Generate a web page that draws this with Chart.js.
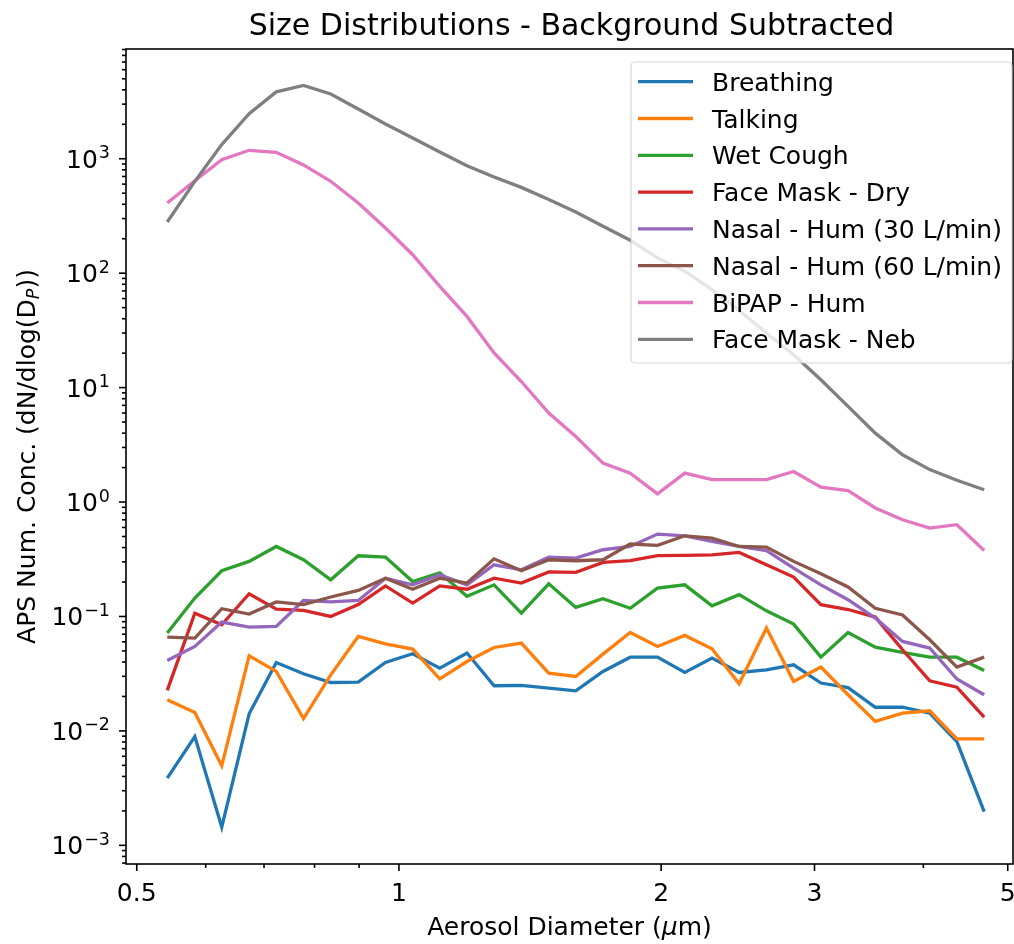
<!DOCTYPE html>
<html>
<head>
<meta charset="utf-8">
<script src="https://cdn.jsdelivr.net/npm/chart.js@4.4.0/dist/chart.umd.min.js"></script>
<style>
  html, body { margin: 0; padding: 0; background: #ffffff; }
  #wrap { width: 1014px; height: 944px; }
</style>
</head>
<body>
<div id="wrap"><canvas id="sizeChart" width="1014" height="944"></canvas></div>
<script>
// APS channel midpoints (um)
const diameters = [0.542, 0.583, 0.626, 0.673, 0.723, 0.777, 0.835, 0.898, 0.965, 1.037, 1.114,
  1.197, 1.286, 1.382, 1.486, 1.596, 1.715, 1.843, 1.981, 2.129, 2.288, 2.458, 2.642, 2.839,
  3.051, 3.278, 3.523, 3.786, 4.068, 4.371, 4.698];

const breathing = [0.00387, 0.00893, 0.00144, 0.0141, 0.0396, 0.0316, 0.0265, 0.0267, 0.0396, 0.0472, 0.0354,
  0.0479, 0.0248, 0.0250, 0.0237, 0.0224, 0.0331, 0.0441, 0.0441, 0.0324, 0.0433, 0.0324, 0.0342, 0.0378,
  0.0262, 0.0239, 0.0161, 0.0161, 0.0143, 0.00807, 0.00197];
const talking = [0.0187, 0.0145, 0.00495, 0.0453, 0.0331, 0.0128, 0.0309, 0.0669, 0.0577, 0.0519, 0.0285,
  0.0404, 0.0536, 0.0585, 0.0320, 0.0299, 0.0469, 0.0725, 0.0547, 0.0683, 0.0522, 0.0258, 0.0792, 0.0270,
  0.0361, 0.0207, 0.0121, 0.0143, 0.0150, 0.00853, 0.00853];
const wetCough = [0.0716, 0.145, 0.251, 0.303, 0.409, 0.313, 0.209, 0.339, 0.330, 0.202, 0.241,
  0.150, 0.189, 0.107, 0.193, 0.120, 0.143, 0.118, 0.177, 0.189, 0.124, 0.155, 0.112, 0.0858,
  0.0441, 0.0725, 0.054, 0.0485, 0.0441, 0.0441, 0.0337];
const maskDry = [0.0226, 0.107, 0.0846, 0.158, 0.116, 0.113, 0.100, 0.127, 0.185, 0.131, 0.185,
  0.173, 0.216, 0.196, 0.245, 0.243, 0.297, 0.307, 0.340, 0.342, 0.346, 0.363, 0.283, 0.221,
  0.127, 0.115, 0.0988, 0.0512, 0.0274, 0.0241, 0.0132];
const nasal30 = [0.0412, 0.0547, 0.0893, 0.0808, 0.0818, 0.138, 0.134, 0.138, 0.216, 0.189, 0.231,
  0.189, 0.283, 0.256, 0.330, 0.324, 0.383, 0.409, 0.525, 0.507, 0.453, 0.409, 0.377, 0.265,
  0.189, 0.140, 0.0968, 0.0605, 0.053, 0.0284, 0.0207];
const nasal60 = [0.066, 0.0647, 0.117, 0.105, 0.134, 0.127, 0.148, 0.169, 0.216, 0.173, 0.216,
  0.196, 0.319, 0.251, 0.313, 0.307, 0.313, 0.430, 0.418, 0.507, 0.484, 0.409, 0.404, 0.303,
  0.236, 0.181, 0.118, 0.103, 0.0626, 0.0361, 0.0441];
const bipap = [411, 643, 982, 1185, 1137, 883, 635, 411, 248, 145, 76.7,
  41.9, 20.1, 11.3, 6.0, 3.74, 2.19, 1.79, 1.18, 1.79, 1.57, 1.57, 1.57, 1.85,
  1.35, 1.26, 0.887, 0.70, 0.593, 0.634, 0.377];
const maskNeb = [280, 634, 1330, 2480, 3840, 4380, 3680, 2720, 2015, 1520, 1147,
  870, 693, 562, 440, 343, 257, 194, 136, 104, 71.8, 47.3, 30, 19.4,
  11.7, 6.85, 4.0, 2.59, 1.92, 1.55, 1.28];

const seriesNames = ["Breathing", "Talking", "Wet Cough", "Face Mask - Dry",
  "Nasal - Hum (30 L/min)", "Nasal - Hum (60 L/min)", "BiPAP - Hum", "Face Mask - Neb"];
const seriesValues = [breathing, talking, wetCough, maskDry, nasal30, nasal60, bipap, maskNeb];
const seriesColors = ["#1f77b4", "#ff7f0e", "#2ca02c", "#d62728", "#9467bd", "#8c564b", "#e377c2", "#7f7f7f"];

const xMajorTicks = [0.5, 1, 2, 3, 5];
const xMinorTicks = [0.6, 0.7, 0.8, 0.9, 4];
const yDecades = [-3, -2, -1, 0, 1, 2, 3];

const FONT = '"DejaVu Sans", "Liberation Sans", sans-serif';
const BASE = "25px " + FONT;
const LINE_W = 3.3;

function line(ctx, x1, y1, x2, y2) {
  ctx.beginPath();
  ctx.moveTo(x1, y1);
  ctx.lineTo(x2, y2);
  ctx.stroke();
}

// 10^n label with a raised exponent
function drawPower(ctx, exp, xRight, yTick) {
  const sup = exp < 0 ? "\u2212" + Math.abs(exp) : String(exp);
  ctx.font = BASE;
  const wb = ctx.measureText("10").width;
  ctx.font = "17.5px " + FONT;
  const ws = ctx.measureText(sup).width;
  const x0 = xRight - ws - wb - 1;
  ctx.font = BASE;
  ctx.fillText("10", x0, yTick + 9);
  ctx.font = "17.5px " + FONT;
  ctx.fillText(sup, x0 + wb + 1, yTick - 0.5);
}

const decorations = {
  id: "decorations",
  afterDraw(chart) {
    const ctx = chart.ctx;
    const area = chart.chartArea;
    const xs = chart.scales.x;
    const ys = chart.scales.y;
    ctx.save();
    ctx.fillStyle = "#000";
    ctx.strokeStyle = "#000";
    ctx.textBaseline = "alphabetic";

    // title
    ctx.font = "30px " + FONT;
    ctx.textAlign = "center";
    ctx.fillText("Size Distributions - Background Subtracted", (area.left + area.right) / 2 + 2, 35);

    // frame
    ctx.lineWidth = 1.6;
    ctx.strokeRect(area.left, area.top, area.right - area.left, area.bottom - area.top);

    // x ticks + labels
    ctx.font = BASE;
    xs.ticks.forEach(t => {
      const px = xs.getPixelForValue(t.value);
      line(ctx, px, area.bottom, px, area.bottom + (t.major ? 7 : 4));
      if (t.major) ctx.fillText(String(t.value), px, 901);
    });

    // y ticks + labels
    ys.ticks.forEach(t => {
      const py = ys.getPixelForValue(t.value);
      line(ctx, area.left, py, area.left - (t.major ? 7 : 4), py);
    });
    ctx.textAlign = "left";
    yDecades.forEach(e => drawPower(ctx, e, 110, ys.getPixelForValue(Math.pow(10, e))));

    // x axis title with italic mu
    const xParts = [["Aerosol Diameter (", BASE], ["\u03bc", "italic " + BASE], ["m)", BASE]];
    let total = 0;
    xParts.forEach(p => { ctx.font = p[1]; total += ctx.measureText(p[0]).width; });
    let cx = (area.left + area.right) / 2 - total / 2;
    xParts.forEach(p => { ctx.font = p[1]; ctx.fillText(p[0], cx, 935); cx += ctx.measureText(p[0]).width; });

    // y axis title with subscript P
    ctx.save();
    ctx.translate(35, (area.top + area.bottom) / 2);
    ctx.rotate(-Math.PI / 2);
    const yParts = [["APS Num. Conc. (dN/dlog(D", BASE, 0], ["P", "italic 17.5px " + FONT, 4], ["))", BASE, 0]];
    total = 0;
    yParts.forEach(p => { ctx.font = p[1]; total += ctx.measureText(p[0]).width; });
    cx = -total / 2;
    yParts.forEach(p => { ctx.font = p[1]; ctx.fillText(p[0], cx, p[2]); cx += ctx.measureText(p[0]).width; });
    ctx.restore();

    // legend
    const lx = 631, ly = 62, lw = 381, lh = 301;
    ctx.fillStyle = "rgba(255,255,255,0.8)";
    ctx.strokeStyle = "rgba(204,204,204,0.8)";
    ctx.lineWidth = 1.2;
    ctx.beginPath();
    ctx.roundRect(lx, ly, lw, lh, 4);
    ctx.fill();
    ctx.stroke();
    ctx.font = BASE;
    ctx.lineWidth = LINE_W;
    seriesNames.forEach((name, i) => {
      const yy = 81.7 + i * 36.8;
      ctx.strokeStyle = seriesColors[i];
      line(ctx, 638, yy, 693, yy);
      ctx.fillStyle = "#000";
      ctx.fillText(name, 712, yy + 9);
    });
    ctx.restore();
  }
};

const datasets = seriesNames.map((name, i) => ({
  label: name,
  data: diameters.map((d, j) => ({ x: d, y: seriesValues[i][j] })),
  borderColor: seriesColors[i],
  backgroundColor: seriesColors[i],
  borderWidth: LINE_W,
  pointRadius: 0,
  tension: 0,
  fill: false,
  order: seriesNames.length - i
}));

new Chart(document.getElementById("sizeChart"), {
  type: "line",
  data: { datasets },
  options: {
    responsive: false,
    animation: false,
    events: [],
    layout: { padding: { left: 0, top: 49, right: 1, bottom: 0 } },
    plugins: { legend: { display: false }, title: { display: false }, tooltip: { enabled: false } },
    scales: {
      x: {
        type: "logarithmic",
        min: 0.486,
        max: 5.07,
        grid: { display: false },
        border: { display: false },
        ticks: { display: false },
        afterBuildTicks: s => {
          s.ticks = xMajorTicks.map(v => ({ value: v, major: true }))
            .concat(xMinorTicks.map(v => ({ value: v, major: false })));
        },
        afterFit: s => { s.height = 80; }
      },
      y: {
        type: "logarithmic",
        min: 6.87e-4,
        max: 9100,
        grid: { display: false },
        border: { display: false },
        ticks: { display: false },
        afterBuildTicks: s => {
          const list = [];
          for (let k = -4; k <= 3; k++) {
            for (let m = 1; m <= 9; m++) {
              const v = m * Math.pow(10, k);
              if (v >= s.min && v <= s.max) list.push({ value: v, major: m === 1 });
            }
          }
          s.ticks = list;
        },
        afterFit: s => { s.width = 126; }
      }
    }
  },
  plugins: [decorations]
});
</script>
</body>
</html>
